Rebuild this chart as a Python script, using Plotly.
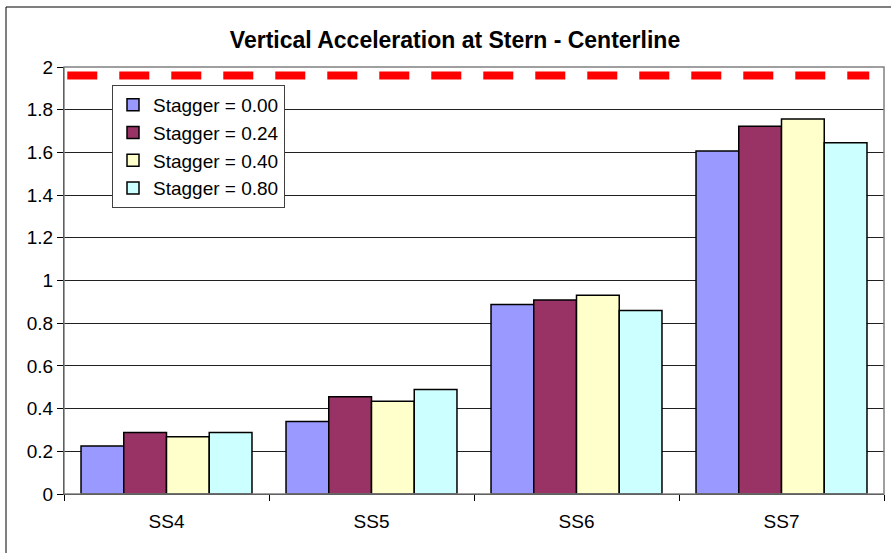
import plotly.graph_objects as go

categories = ["SS4", "SS5", "SS6", "SS7"]
series_names = ["Stagger = 0.00", "Stagger = 0.24", "Stagger = 0.40", "Stagger = 0.80"]
stagger_000 = [0.225, 0.34, 0.888, 1.607]
stagger_024 = [0.288, 0.455, 0.909, 1.722]
stagger_040 = [0.268, 0.435, 0.931, 1.756]
stagger_080 = [0.288, 0.49, 0.859, 1.645]
limit_value = 1.96
y_ticks = [0, 0.2, 0.4, 0.6, 0.8, 1, 1.2, 1.4, 1.6, 1.8, 2]
y_tick_labels = ["0", "0.2", "0.4", "0.6", "0.8", "1", "1.2", "1.4", "1.6", "1.8", "2"]

colors = ["#9999FF", "#993366", "#FFFFCC", "#CCFFFF"]
all_series = [stagger_000, stagger_024, stagger_040, stagger_080]

fig = go.Figure()
for name, vals, col in zip(series_names, all_series, colors):
    fig.add_trace(go.Bar(
        x=categories, y=vals, name=name,
        marker=dict(color=col, line=dict(color="black", width=1.5)),
    ))

# limit line
fig.add_shape(type="line", xref="paper", yref="y", x0=0.004, x1=0.982,
              y0=limit_value, y1=limit_value,
              line=dict(color="#FF0000", width=8, dash="30px,22px"))
# plot area border
fig.add_shape(type="rect", xref="paper", yref="paper", x0=0, x1=1, y0=0, y1=1,
              line=dict(color="#808080", width=1.5))
# outer chart frame
fig.add_shape(type="rect", xref="paper", yref="paper",
              x0=(6 - 64) / 820, x1=(905 - 64) / 820,
              y0=(494 - 580) / 427, y1=(494 - 7) / 427,
              line=dict(color="black", width=1))

fig.update_layout(
    width=891, height=553,
    margin=dict(l=64, r=7, t=67, b=59),
    paper_bgcolor="white", plot_bgcolor="white",
    barmode="group", bargap=0.166, bargroupgap=0,
    font=dict(family="Arial, Liberation Sans, sans-serif", size=18, color="black"),
    title=dict(text="<b>Vertical Acceleration at Stern - Centerline</b>",
               x=455 / 891, xref="container", xanchor="center",
               y=1 - 40 / 553, yanchor="middle",
               font=dict(size=23, color="black")),
    showlegend=True,
    legend=dict(x=(112 - 64) / 820, y=(494 - 85) / 427, xanchor="left", yanchor="top",
                bordercolor="#404040", borderwidth=1, bgcolor="white",
                font=dict(size=19), tracegroupgap=0, itemwidth=30),
    xaxis=dict(showline=True, linecolor="black", linewidth=1,
               ticks="outside", tickson="boundaries", ticklen=6, tickcolor="black",
               tickfont=dict(size=19), showgrid=False, ticklabelstandoff=10),
    yaxis=dict(range=[0, 2], tickvals=y_ticks, ticktext=y_tick_labels,
               showline=True, linecolor="black", linewidth=1,
               ticks="outside", ticklen=6, tickcolor="black",
               showgrid=True, gridcolor="#202020", gridwidth=1,
               tickfont=dict(size=19), zeroline=False),
)

fig.write_html("out.html")
